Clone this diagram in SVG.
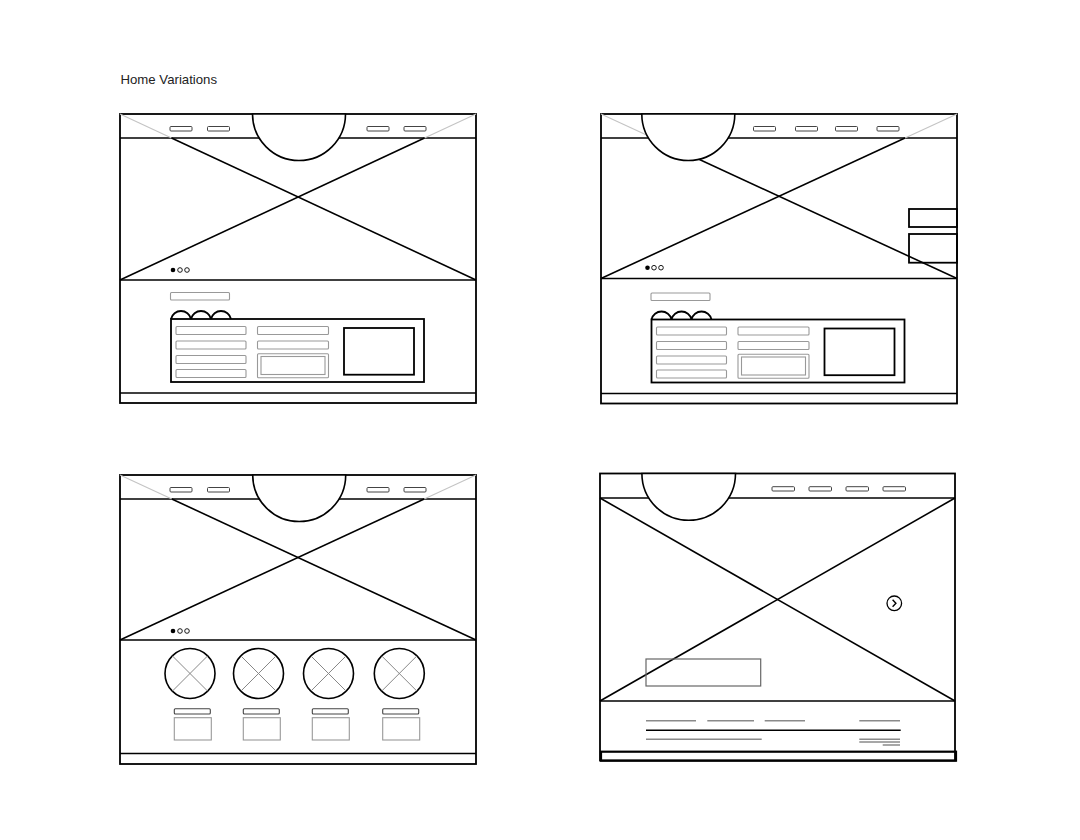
<svg xmlns="http://www.w3.org/2000/svg" width="1080" height="840" viewBox="0 0 1080 840">
<style>
.bg{fill:#fff}
.frame{fill:none;stroke:#000;stroke-width:1.8}
.ln{stroke:#000;stroke-width:1.6;fill:none}
.xg{stroke:#c4c4c4;stroke-width:1.1;fill:none}
.semi{fill:#fff;stroke:#000;stroke-width:1.6}
.nav{fill:#fff;stroke:#444;stroke-width:1}
.field{fill:none;stroke:#999;stroke-width:1.1}
.blk{fill:none;stroke:#000;stroke-width:1.8}
.dotf{fill:#000}
.doth{fill:#fff;stroke:#000;stroke-width:0.9}
.cg{stroke:#888;stroke-width:1;fill:none}
.lbl{fill:#fff;stroke:#444;stroke-width:1.1}
.fg{stroke:#8a8a8a;stroke-width:1.5;fill:none}
.title{font-family:"Liberation Sans",Arial,sans-serif;font-size:13.2px;fill:#222}
</style>
<defs>
<g id="panel">
<rect class="field" x="170.5" y="292.5" width="59" height="7.5" rx="1"/>
<path class="blk" d="M171,319 A10.25,10.25 0 0 1 191,319 A10.25,10.25 0 0 1 211,319 A10.25,10.25 0 0 1 231,319" stroke-width="1.5"/>
<rect class="blk" x="171" y="319" width="253" height="63"/>
<rect class="field" x="176" y="326.5" width="70" height="8" rx="1"/>
<rect class="field" x="176" y="341" width="70" height="8" rx="1"/>
<rect class="field" x="176" y="355.5" width="70" height="8" rx="1"/>
<rect class="field" x="176" y="369.5" width="70" height="8" rx="1"/>
<rect class="field" x="257.5" y="326.5" width="71" height="8" rx="1"/>
<rect class="field" x="257.5" y="341" width="71" height="8" rx="1"/>
<rect class="field" x="257.5" y="353.7" width="71" height="24" rx="1"/>
<rect class="field" x="261" y="356.5" width="64" height="18"/>
<rect class="blk" x="344" y="328" width="70" height="46.7"/>
</g>
<g id="circ">
<circle cx="0" cy="0" r="25" fill="#fff" stroke="#000" stroke-width="1.6"/>
<path class="cg" d="M-17.7,-17.7 L17.7,17.7 M17.7,-17.7 L-17.7,17.7"/>
</g>
</defs>
<rect class="bg" x="0" y="0" width="1080" height="840"/>
<text class="title" x="120.5" y="84">Home Variations</text>

<g id="variation-1">
<rect class="frame" x="120" y="114" width="356" height="289"/>
<line class="ln" x1="120" y1="138" x2="476" y2="138"/>
<line class="ln" x1="120" y1="280" x2="476" y2="280"/>
<line class="ln" x1="120" y1="393" x2="476" y2="393"/>
<line class="xg" x1="120" y1="114" x2="171.5" y2="138"/>
<line class="xg" x1="476" y1="114" x2="424.5" y2="138"/>
<line class="ln" x1="171.5" y1="138" x2="476" y2="280"/>
<line class="ln" x1="424.5" y1="138" x2="120" y2="280"/>
<path class="semi" d="M252.5,114 A46.5,46.5 0 0 0 345.5,114 Z"/>
<rect class="nav" x="170" y="126.5" width="22" height="4.5" rx="1"/>
<rect class="nav" x="207.5" y="126.5" width="22" height="4.5" rx="1"/>
<rect class="nav" x="367" y="126.5" width="22" height="4.5" rx="1"/>
<rect class="nav" x="404" y="126.5" width="22" height="4.5" rx="1"/>
<circle class="dotf" cx="173" cy="270" r="2.3"/>
<circle class="doth" cx="180" cy="270" r="2.3"/>
<circle class="doth" cx="187" cy="270" r="2.3"/>
<use href="#panel"/>
</g>

<g id="variation-2">
<rect class="frame" x="601" y="114" width="356" height="289.5"/>
<line class="ln" x1="601" y1="138" x2="957" y2="138"/>
<line class="ln" x1="601" y1="278.5" x2="957" y2="278.5"/>
<line class="ln" x1="601" y1="393.5" x2="957" y2="393.5"/>
<line class="xg" x1="601" y1="114" x2="653" y2="138"/>
<line class="xg" x1="957" y1="114" x2="905" y2="138"/>
<line class="ln" x1="653" y1="138" x2="957" y2="278.5"/>
<line class="ln" x1="905" y1="138" x2="601" y2="278.5"/>
<path class="semi" d="M641.8,114 A46.5,46.5 0 0 0 734.8,114 Z"/>
<rect class="nav" x="753.5" y="126.5" width="22" height="4.5" rx="1"/>
<rect class="nav" x="795.5" y="126.5" width="22" height="4.5" rx="1"/>
<rect class="nav" x="835.5" y="126.5" width="22" height="4.5" rx="1"/>
<rect class="nav" x="877" y="126.5" width="22" height="4.5" rx="1"/>
<rect class="blk" x="909" y="209" width="48" height="18"/>
<rect class="blk" x="909" y="234" width="48" height="28.7"/>
<circle class="dotf" cx="647.5" cy="267.7" r="2.3"/>
<circle class="doth" cx="654" cy="267.7" r="2.3"/>
<circle class="doth" cx="661" cy="267.7" r="2.3"/>
<use href="#panel" transform="translate(480.5,0.5)"/>
</g>

<g id="variation-3">
<rect class="frame" x="120" y="475" width="356" height="289"/>
<line class="ln" x1="120" y1="499" x2="476" y2="499"/>
<line class="ln" x1="120" y1="640" x2="476" y2="640"/>
<line class="ln" x1="120" y1="753.5" x2="476" y2="753.5"/>
<line class="xg" x1="120" y1="475" x2="171.8" y2="499"/>
<line class="xg" x1="476" y1="475" x2="424.2" y2="499"/>
<line class="ln" x1="171.8" y1="499" x2="476" y2="640"/>
<line class="ln" x1="424.2" y1="499" x2="120" y2="640"/>
<path class="semi" d="M252.7,475 A46.5,46.5 0 0 0 345.7,475 Z"/>
<rect class="nav" x="170" y="487.5" width="22" height="4.5" rx="1"/>
<rect class="nav" x="207.5" y="487.5" width="22" height="4.5" rx="1"/>
<rect class="nav" x="367" y="487.5" width="22" height="4.5" rx="1"/>
<rect class="nav" x="404" y="487.5" width="22" height="4.5" rx="1"/>
<circle class="dotf" cx="173" cy="631" r="2.3"/>
<circle class="doth" cx="180" cy="631" r="2.3"/>
<circle class="doth" cx="187" cy="631" r="2.3"/>
<use href="#circ" transform="translate(190,673.5)"/>
<use href="#circ" transform="translate(258.5,673.5)"/>
<use href="#circ" transform="translate(328.5,673.5)"/>
<use href="#circ" transform="translate(399.3,673.5)"/>
<rect class="lbl" x="174.3" y="708.7" width="36" height="5.3" rx="1"/>
<rect class="lbl" x="243.3" y="708.7" width="36" height="5.3" rx="1"/>
<rect class="lbl" x="312.3" y="708.7" width="36" height="5.3" rx="1"/>
<rect class="lbl" x="382.7" y="708.7" width="36" height="5.3" rx="1"/>
<rect class="field" x="174.3" y="717.7" width="37" height="22.3"/>
<rect class="field" x="243.3" y="717.7" width="37" height="22.3"/>
<rect class="field" x="312.3" y="717.7" width="37" height="22.3"/>
<rect class="field" x="382.7" y="717.7" width="37" height="22.3"/>
</g>

<g id="variation-4">
<rect class="frame" x="600" y="473.5" width="355" height="287"/>
<line class="ln" x1="600" y1="498" x2="955" y2="498"/>
<line class="ln" x1="600" y1="701" x2="955" y2="701"/>
<rect x="601" y="751.7" width="355" height="9" fill="none" stroke="#000" stroke-width="2.2"/>
<line class="ln" x1="600" y1="498" x2="955" y2="701"/>
<line class="ln" x1="955" y1="498" x2="600" y2="701"/>
<path class="semi" d="M641.9,473.5 A46.8,46.8 0 0 0 735.5,473.5 Z"/>
<rect class="nav" x="772" y="486.7" width="22.5" height="4.3" rx="1"/>
<rect class="nav" x="809" y="486.7" width="22.5" height="4.3" rx="1"/>
<rect class="nav" x="846" y="486.7" width="22.5" height="4.3" rx="1"/>
<rect class="nav" x="883" y="486.7" width="22.5" height="4.3" rx="1"/>
<rect x="646" y="659" width="114.7" height="27" fill="none" stroke="#666" stroke-width="1.2"/>
<circle cx="894.3" cy="603.3" r="7.3" fill="#fff" stroke="#000" stroke-width="1.3"/>
<path d="M892.6,599.8 L895.9,603.3 L892.6,606.8" fill="none" stroke="#000" stroke-width="1.4"/>
<line class="fg" x1="646" y1="720.7" x2="696" y2="720.7"/>
<line class="fg" x1="707.3" y1="720.7" x2="754" y2="720.7"/>
<line class="fg" x1="764.7" y1="720.7" x2="805" y2="720.7"/>
<line class="fg" x1="859.3" y1="720.7" x2="900" y2="720.7"/>
<line class="ln" x1="646" y1="730.3" x2="900.7" y2="730.3"/>
<line class="fg" x1="646" y1="739.3" x2="761.7" y2="739.3"/>
<line class="fg" x1="859.3" y1="739.3" x2="900" y2="739.3" stroke-width="1"/>
<line class="fg" x1="859.3" y1="742" x2="900" y2="742" stroke-width="1"/>
<line class="fg" x1="882.7" y1="745" x2="900" y2="745" stroke-width="1"/>
</g>
</svg>
